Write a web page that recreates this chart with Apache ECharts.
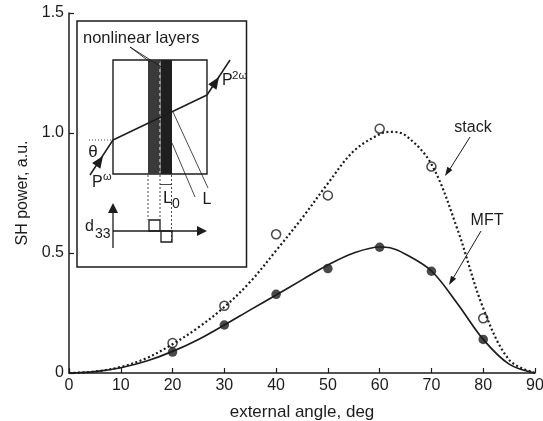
<!DOCTYPE html>
<html><head><meta charset="utf-8">
<style>html,body{margin:0;padding:0;background:#fff}#c{width:543px;height:421px}</style>
<script src="https://cdn.jsdelivr.net/npm/echarts@6/dist/echarts.min.js"></script>
</head><body><div id="c"></div>
<script>
const curveAngles = [0,5,10,15,20,25,30,35,40,45,50,55,60,62,65,70,75,80,85,90];
const stackCurve  = [0,.006,.025,.062,.12,.19,.275,.38,.51,.645,.79,.925,.995,1.005,.99,.87,.60,.27,.055,0];
const mftCurve    = [0,.006,.022,.05,.09,.14,.2,.263,.325,.388,.45,.5,.525,.522,.495,.425,.29,.14,.037,0];
const pointAngles = [20,30,40,50,60,70,80];
const stackPoints = [.125,.28,.578,.74,1.018,.86,.228];
const mftPoints   = [.087,.2,.328,.435,.524,.424,.14];
const xTicks = {min:0,max:90,step:10};
const yTicks = {min:0,max:1.5,step:.5};

const INK='#1c1c1c', FONT='"Liberation Sans",Arial,sans-serif';
const pair=(xs,ys)=>xs.map((x,i)=>[x,ys[i]]);
const line=(x1,y1,x2,y2,w=1.3,dash)=>({type:'line',shape:{x1,y1,x2,y2},style:{stroke:INK,lineWidth:w,lineDash:dash||null},z:5});
const rect=(x,y,w,h,fill,lw=1.4)=>({type:'rect',shape:{x,y,width:w,height:h},style:{fill:fill||'none',stroke:fill&&lw===0?null:INK,lineWidth:lw},z:4});
const text=(x,y,t,size=16,align='left')=>({type:'text',x,y,style:{text:t,font:size+'px '+FONT,fill:INK,textAlign:align,textVerticalAlign:'middle'},z:6});
function arrow(x1,y1,x2,y2,len=11,hw=4.5){
  const a=Math.atan2(y2-y1,x2-x1),c=Math.cos(a),s=Math.sin(a);
  const bx=x2-len*c,by=y2-len*s;
  return {type:'polygon',shape:{points:[[x2,y2],[bx-hw*s,by+hw*c],[bx+hw*s,by-hw*c]]},style:{fill:INK},z:6};
}
const inset=[
  rect(77,21,169.5,246,null,1.5),
  rect(113,60,94,114,null,1.4),
  rect(148,60,11.5,114,'#3a3a3a',0),
  rect(160.5,60,11.5,114,'#1f1f1f',0),
  line(159.8,60,159.8,174,1,[3,3]),
  line(90,175,113,140,1.5), line(113,140,207,95,1.5), line(207,95,230,60,1.5),
  arrow(90,175,103,156,12,5), arrow(207,95,219,77,12,5),
  line(89,140,113,140,.8,[1,2]),
  line(130,47,150,62,.9), line(130,47,163,68,.9),
  line(172,143,195,197,.8), line(173,112,208,188,.8),
  line(148,175,148,220,.8,[2,2]), line(160,175,160,220,.8,[2,2]), line(171.5,175,171.5,242,.8,[2,2]),
  line(160,184.5,171.5,184.5,.8),
  line(113,248,113,208,1.3), arrow(113,248,113,203,10,5),
  line(113,231,200,231,1.3), arrow(113,231,207,231,10,5),
  rect(149,220,11,11,null,1.3), rect(161,231,11,11,null,1.3),
  text(83,38,'nonlinear layers',16.5),
  text(93,152,'θ',17,'center'),
  text(92,183,'P',16), text(103,177,'ω',11),
  text(222,81,'P',16), text(232,76,'2ω',11.5),
  text(163,198,'L',17), text(172,204,'0',14),
  text(207,200,'L',16,'center'),
  text(85,227,'d',16), text(95,234,'33',14)
];
const notes=[
  text(473,128,'stack',16,'center'),
  line(470,137,448,172,1), arrow(470,137,445,176,9,3),
  text(487,221,'MFT',16,'center'),
  line(481,231,452,280,1), arrow(481,231,449,285,9,3)
];
const axisBase={axisLine:{onZero:false,lineStyle:{color:INK,width:1.5}},axisTick:{inside:true,length:5,lineStyle:{color:INK,width:1.2}},splitLine:{show:false}};
const chart=echarts.init(document.getElementById('c'),null,{renderer:'canvas'});
chart.setOption({
  animation:false,backgroundColor:'#fff',
  grid:{left:69,right:8,top:13,bottom:48,outerBoundsMode:'none'},
  xAxis:{type:'value',...axisBase,min:xTicks.min,max:xTicks.max,interval:xTicks.step,
    name:'external angle, deg',nameLocation:'middle',nameGap:31,
    nameTextStyle:{color:INK,fontFamily:FONT,fontSize:17},
    axisLabel:{color:INK,fontFamily:FONT,fontSize:16,margin:5,hideOverlap:false}},
  yAxis:{type:'value',...axisBase,min:yTicks.min,max:yTicks.max,interval:yTicks.step,
    name:'SH power, a.u.',nameLocation:'middle',nameGap:36,
    nameTextStyle:{color:INK,fontFamily:FONT,fontSize:16},
    axisLabel:{color:INK,fontFamily:FONT,fontSize:16,margin:5,formatter:v=>v===0?'0':v.toFixed(1)}},
  series:[
    {name:'stack',type:'line',smooth:.35,symbol:'none',data:pair(curveAngles,stackCurve),lineStyle:{color:INK,width:2.2,type:[2,2.5]}},
    {name:'MFT',type:'line',smooth:.35,symbol:'none',data:pair(curveAngles,mftCurve),lineStyle:{color:INK,width:1.7}},
    {name:'stack data',type:'scatter',symbol:'circle',symbolSize:9,data:pair(pointAngles,stackPoints),itemStyle:{color:'rgba(255,255,255,0)',borderColor:INK,borderWidth:1.5},z:4},
    {name:'MFT data',type:'scatter',symbol:'circle',symbolSize:9.5,data:pair(pointAngles,mftPoints),itemStyle:{color:INK},z:4}
  ],
  graphic:{elements:inset.concat(notes)}
});
</script></body></html>
